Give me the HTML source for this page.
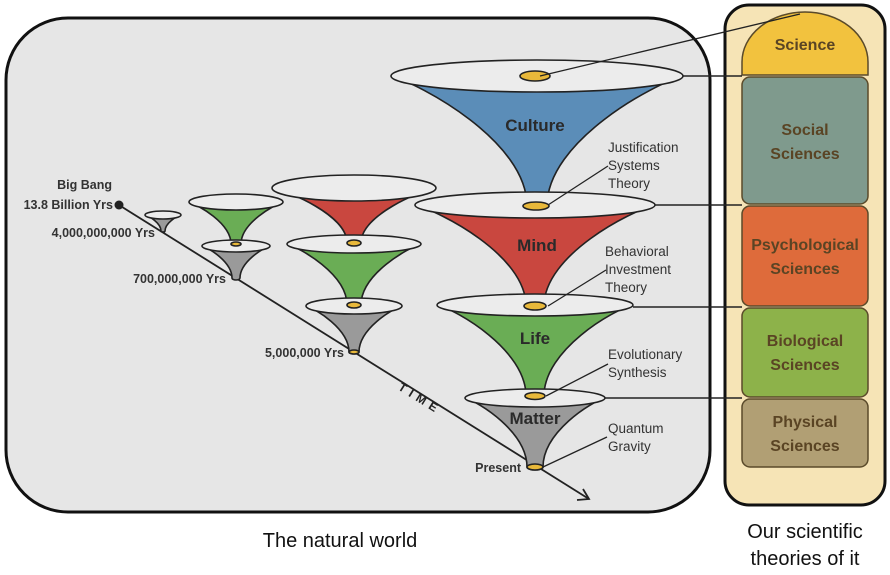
<!DOCTYPE html>
<html><head><meta charset="utf-8"><style>
html,body{margin:0;padding:0;background:#fff;}
svg{display:block;font-family:"Liberation Sans",sans-serif;}
</style></head><body>
<svg width="890" height="575" viewBox="0 0 890 575" xmlns="http://www.w3.org/2000/svg">
<rect x="6" y="18" width="704" height="494" rx="62" fill="#e6e6e6" stroke="#111" stroke-width="3"/>
<rect x="725" y="5" width="160" height="500" rx="24" fill="#f6e4b6" stroke="#111" stroke-width="3"/>
<path d="M742,75 L742,62 A63,50 0 0 1 868,62 L868,75 Z" fill="#f2c23e" stroke="#5a4a2a" stroke-width="1.5"/>
<rect x="742" y="77" width="126" height="127" rx="8" fill="#7f9a8d" stroke="#5a4a2a" stroke-width="1.5"/>
<rect x="742" y="206" width="126" height="100" rx="8" fill="#de6b3b" stroke="#5a4a2a" stroke-width="1.5"/>
<rect x="742" y="308" width="126" height="89" rx="8" fill="#8db24a" stroke="#5a4a2a" stroke-width="1.5"/>
<rect x="742" y="399" width="126" height="68" rx="8" fill="#b19f74" stroke="#5a4a2a" stroke-width="1.5"/>
<g fill="#5a4424" font-weight="bold" font-size="16" text-anchor="middle">
<text x="805" y="50">Science</text>
<text x="805" y="135">Social</text><text x="805" y="159">Sciences</text>
<text x="805" y="250">Psychological</text><text x="805" y="274">Sciences</text>
<text x="805" y="346">Biological</text><text x="805" y="370">Sciences</text>
<text x="805" y="427">Physical</text><text x="805" y="451">Sciences</text>
</g>
<g stroke="#222" stroke-width="1.5" fill="none">
<line x1="683" y1="76" x2="742" y2="76"/>
<line x1="655" y1="205" x2="742" y2="205"/>
<line x1="633" y1="307" x2="742" y2="307"/>
<line x1="605" y1="398" x2="742" y2="398"/>
</g>
<line x1="119" y1="205" x2="589" y2="499" stroke="#222" stroke-width="1.8"/>
<path d="M577,500 L589,499 L583,489" fill="none" stroke="#222" stroke-width="1.8"/>
<circle cx="119" cy="205" r="4.5" fill="#222"/>
<text x="418" y="402" font-size="12" font-weight="bold" fill="#222" letter-spacing="5" transform="rotate(32 418 402)" text-anchor="middle">TIME</text>
<g stroke="#222" stroke-width="1.6">
<path d="M145,215 C149,216 161,223 161,231 A2,1 0 0 0 165,231 C165,223 177,216 181,215 Z" fill="#9a9a9a"/>
<ellipse cx="163" cy="215" rx="18" ry="4" fill="#ececec"/>
<path d="M189,202 C198,205 231,223 231,244 A5,2 0 0 0 241,244 C241,223 274,205 283,202 Z" fill="#6aad55"/>
<ellipse cx="236" cy="202" rx="47" ry="8" fill="#ececec"/>
<path d="M202,246 C209,248 232,262 232,278 A4,2 0 0 0 240,278 C240,262 263,248 270,246 Z" fill="#9a9a9a"/>
<ellipse cx="236" cy="246" rx="34" ry="6" fill="#ececec"/>
<ellipse cx="236" cy="244" rx="5" ry="2" fill="#e8b83a"/>
<path d="M272,188 C288,191 347,215 347,243 A7,3 0 0 0 361,243 C361,215 420,191 436,188 Z" fill="#c9473f"/>
<ellipse cx="354" cy="188" rx="82" ry="13" fill="#ececec"/>
<path d="M287,244 C300,248 347,274 347,305 A7,3 0 0 0 361,305 C361,274 408,248 421,244 Z" fill="#6aad55"/>
<ellipse cx="354" cy="244" rx="67" ry="9" fill="#ececec"/>
<ellipse cx="354" cy="243" rx="7" ry="3" fill="#e8b83a"/>
<path d="M306,306 C316,309 349,329 349,352 A5,2 0 0 0 359,352 C359,329 392,309 402,306 Z" fill="#9a9a9a"/>
<ellipse cx="354" cy="306" rx="48" ry="8" fill="#ececec"/>
<ellipse cx="354" cy="305" rx="7" ry="3" fill="#e8b83a"/>
<ellipse cx="354" cy="352" rx="5" ry="2" fill="#e8b83a"/>
<path d="M391,76 C420,84 527,141 527,206 A10,4 0 0 0 547,206 C547,141 654,84 683,76 Z" fill="#5b8db8"/>
<ellipse cx="537" cy="76" rx="146" ry="16" fill="#ececec"/>
<ellipse cx="535" cy="76" rx="15" ry="5" fill="#e8b83a"/>
<path d="M415,205 C439,211 526,255 526,306 A9,4 0 0 0 544,306 C544,255 631,211 655,205 Z" fill="#c9473f"/>
<ellipse cx="535" cy="205" rx="120" ry="13" fill="#ececec"/>
<ellipse cx="536" cy="206" rx="13" ry="4" fill="#e8b83a"/>
<path d="M437,305 C457,310 526,350 526,396 A9,4 0 0 0 544,396 C544,350 613,310 633,305 Z" fill="#6aad55"/>
<ellipse cx="535" cy="305" rx="98" ry="11" fill="#ececec"/>
<ellipse cx="535" cy="306" rx="11" ry="4" fill="#e8b83a"/>
<path d="M465,398 C479,402 527,432 527,467 A8,3 0 0 0 543,467 C543,432 591,402 605,398 Z" fill="#9a9a9a"/>
<ellipse cx="535" cy="398" rx="70" ry="9" fill="#ececec"/>
<ellipse cx="535" cy="396" rx="10" ry="3.5" fill="#e8b83a"/>
<ellipse cx="535" cy="467" rx="8" ry="3" fill="#e8b83a"/>
</g>
<g stroke="#222" stroke-width="1.3">
<line x1="540" y1="76" x2="800" y2="14"/>
<line x1="548" y1="205" x2="608" y2="166"/>
<line x1="548" y1="306" x2="606" y2="270"/>
<line x1="546" y1="396" x2="608" y2="364"/>
<line x1="543" y1="467" x2="607" y2="437"/>
</g>
<g fill="#2a2a2a" font-weight="bold" text-anchor="middle" font-size="17">
<text x="535" y="131">Culture</text>
<text x="537" y="251">Mind</text>
<text x="535" y="344">Life</text>
<text x="535" y="424">Matter</text>
</g>
<g fill="#333" font-size="13.5">
<text x="608" y="152">Justification</text><text x="608" y="170">Systems</text><text x="608" y="188">Theory</text>
<text x="605" y="256">Behavioral</text><text x="605" y="274">Investment</text><text x="605" y="292">Theory</text>
<text x="608" y="359">Evolutionary</text><text x="608" y="377">Synthesis</text>
<text x="608" y="433">Quantum</text><text x="608" y="451">Gravity</text>
</g>
<g fill="#333" font-size="12.5" font-weight="bold" text-anchor="end">
<text x="112" y="189">Big Bang</text>
<text x="113" y="209">13.8 Billion Yrs</text>
<text x="155" y="237">4,000,000,000 Yrs</text>
<text x="226" y="283">700,000,000 Yrs</text>
<text x="344" y="357">5,000,000 Yrs</text>
<text x="521" y="472">Present</text>
</g>
<g fill="#111" font-size="20" text-anchor="middle">
<text x="340" y="547">The natural world</text>
<text x="805" y="538">Our scientific</text>
<text x="805" y="565">theories of it</text>
</g>
</svg>
</body></html>
